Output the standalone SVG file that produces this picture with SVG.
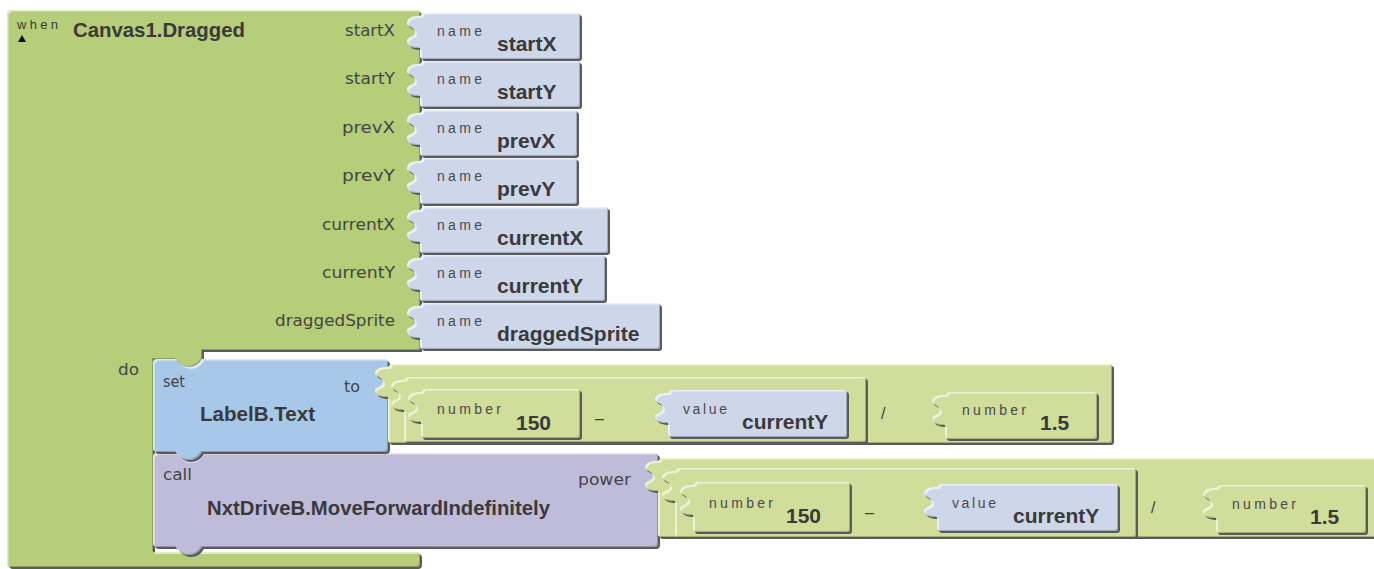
<svg xmlns="http://www.w3.org/2000/svg" width="1374" height="569" viewBox="0 0 1374 569">
<style>
text{font-family:"Liberation Sans",Arial,sans-serif;fill:#3a3a3a}
.sm{font-size:14px;fill:#4a4a4a}
.lb{font-family:"DejaVu Sans","Liberation Sans",sans-serif;font-size:15.5px;fill:#454545}
.bd{font-size:21px;font-weight:bold}
.tt{font-size:20.5px;font-weight:bold}
.op{font-size:16px;fill:#404040}
.blk{filter:url(#bv)}
.ev{fill:#B6CD79}
.mt{fill:#D0DD9B}
.nm{fill:#CED7EA}
.st{fill:#A7C8E9}
.cl{fill:#BFBCDA}
</style>
<defs>
<filter id="bv" x="-5%" y="-5%" width="110%" height="115%" color-interpolation-filters="sRGB">
<feOffset in="SourceAlpha" dx="2" dy="2" result="off"/>
<feComposite in="off" in2="SourceAlpha" operator="out" result="outer"/>
<feFlood flood-color="#5a5a5a"/>
<feComposite in2="outer" operator="in" result="shadow"/>
<feOffset in="SourceAlpha" dx="1.5" dy="1.5" result="off2"/>
<feComposite in="SourceAlpha" in2="off2" operator="out" result="tl"/>
<feFlood flood-color="#ffffff" flood-opacity="0.6"/>
<feComposite in2="tl" operator="in" result="hl"/>
<feOffset in="SourceAlpha" dx="-1.5" dy="-1.5" result="off3"/>
<feComposite in="SourceAlpha" in2="off3" operator="out" result="br"/>
<feFlood flood-color="#000000" flood-opacity="0.22"/>
<feComposite in2="br" operator="in" result="dk"/>
<feMerge><feMergeNode in="shadow"/><feMergeNode in="SourceGraphic"/><feMergeNode in="hl"/><feMergeNode in="dk"/></feMerge>
</filter>
</defs>

<g id="canvas1-dragged">
<path class="blk ev" d="M11,10 H416 Q420,10 420,14 V350 H202 V359 Q197,367 189,367 Q181,367 176,359 H153 V552 H416 Q420,552 420,556 V563 Q420,567 416,567 H11 Q7,567 7,563 V14 Q7,10 11,10 Z"/>
<text x="17" y="29" font-size="13" fill="#404040" textLength="41">when</text>
<polygon points="18,42 22,35 26,42" fill="#111"/>
<text class="tt" x="73" y="37" textLength="172" lengthAdjust="spacingAndGlyphs">Canvas1.Dragged</text>
<text class="lb" x="395" y="36" text-anchor="end" textLength="50" lengthAdjust="spacingAndGlyphs">startX</text>
<text class="lb" x="395" y="84" text-anchor="end" textLength="50" lengthAdjust="spacingAndGlyphs">startY</text>
<text class="lb" x="395" y="133" text-anchor="end" textLength="53" lengthAdjust="spacingAndGlyphs">prevX</text>
<text class="lb" x="395" y="181" text-anchor="end" textLength="53" lengthAdjust="spacingAndGlyphs">prevY</text>
<text class="lb" x="395" y="230" text-anchor="end" textLength="73" lengthAdjust="spacingAndGlyphs">currentX</text>
<text class="lb" x="395" y="278" text-anchor="end" textLength="73" lengthAdjust="spacingAndGlyphs">currentY</text>
<text class="lb" x="395" y="326" text-anchor="end" textLength="120" lengthAdjust="spacingAndGlyphs">draggedSprite</text>
<text class="lb" x="118" y="375" textLength="21" lengthAdjust="spacingAndGlyphs">do</text>
</g>

<g id="name-startX">
<path class="blk nm" d="M423,13 H577 Q580,13 580,16 V56 Q580,59 577,59 H423 Q420,59 420,56 V48 C413,48 407,47 407,40 C407,37 415,37 415,32 C415,27 407,27 407,24 C407,17 413,16 420,16 Z"/>
<text class="sm" x="437" y="36" textLength="45">name</text>
<text class="bd" x="497" y="51">startX</text>
</g>
<g id="name-startY">
<path class="blk nm" d="M423,61 H577 Q580,61 580,64 V104 Q580,107 577,107 H423 Q420,107 420,104 V96 C413,96 407,95 407,88 C407,85 415,85 415,80 C415,75 407,75 407,72 C407,65 413,64 420,64 Z"/>
<text class="sm" x="437" y="84" textLength="45">name</text>
<text class="bd" x="497" y="99">startY</text>
</g>
<g id="name-prevX">
<path class="blk nm" d="M423,110 H574 Q577,110 577,113 V153 Q577,156 574,156 H423 Q420,156 420,153 V145 C413,145 407,144 407,137 C407,134 415,134 415,129 C415,124 407,124 407,121 C407,114 413,113 420,113 Z"/>
<text class="sm" x="437" y="133" textLength="45">name</text>
<text class="bd" x="497" y="148">prevX</text>
</g>
<g id="name-prevY">
<path class="blk nm" d="M423,158 H574 Q577,158 577,161 V201 Q577,204 574,204 H423 Q420,204 420,201 V193 C413,193 407,192 407,185 C407,182 415,182 415,177 C415,172 407,172 407,169 C407,162 413,161 420,161 Z"/>
<text class="sm" x="437" y="181" textLength="45">name</text>
<text class="bd" x="497" y="196">prevY</text>
</g>
<g id="name-currentX">
<path class="blk nm" d="M423,207 H605 Q608,207 608,210 V250 Q608,253 605,253 H423 Q420,253 420,250 V242 C413,242 407,241 407,234 C407,231 415,231 415,226 C415,221 407,221 407,218 C407,211 413,210 420,210 Z"/>
<text class="sm" x="437" y="230" textLength="45">name</text>
<text class="bd" x="497" y="245">currentX</text>
</g>
<g id="name-currentY">
<path class="blk nm" d="M423,255 H602 Q605,255 605,258 V298 Q605,301 602,301 H423 Q420,301 420,298 V290 C413,290 407,289 407,282 C407,279 415,279 415,274 C415,269 407,269 407,266 C407,259 413,258 420,258 Z"/>
<text class="sm" x="437" y="278" textLength="45">name</text>
<text class="bd" x="497" y="293">currentY</text>
</g>
<g id="name-draggedSprite">
<path class="blk nm" d="M423,303 H657 Q660,303 660,306 V346 Q660,349 657,349 H423 Q420,349 420,346 V338 C413,338 407,337 407,330 C407,327 415,327 415,322 C415,317 407,317 407,314 C407,307 413,306 420,306 Z"/>
<text class="sm" x="437" y="326" textLength="45">name</text>
<text class="bd" x="497" y="341">draggedSprite</text>
</g>

<g id="call-move">
<path class="blk cl" d="M157,453 H176 Q181,461 189,461 Q197,461 202,453 H654 Q658,453 658,457 V543 Q658,547 654,547 H202 Q197,555 189,555 Q181,555 176,547 H157 Q153,547 153,543 V457 Q153,453 157,453 Z"/>
<text class="lb" x="163" y="480" textLength="29" lengthAdjust="spacingAndGlyphs">call</text>
<text class="lb" x="578" y="485" textLength="53" lengthAdjust="spacingAndGlyphs">power</text>
<text class="tt" x="207" y="515" textLength="343" lengthAdjust="spacingAndGlyphs">NxtDriveB.MoveForwardIndefinitely</text>
</g>

<g id="set-label">
<path class="blk st" d="M157,359 H176 Q181,367 189,367 Q197,367 202,359 H384 Q388,359 388,363 V448 Q388,452 384,452 H202 Q197,460 189,460 Q181,460 176,452 H157 Q153,452 153,448 V363 Q153,359 157,359 Z"/>
<text class="lb" x="163" y="387" textLength="22" lengthAdjust="spacingAndGlyphs">set</text>
<text class="lb" x="344" y="392" textLength="16" lengthAdjust="spacingAndGlyphs">to</text>
<text class="tt" x="200" y="421" textLength="115" lengthAdjust="spacingAndGlyphs">LabelB.Text</text>
</g>

<g id="divide-a">
<path class="blk mt" d="M391,364 H1109 Q1112,364 1112,367 V440 Q1112,443 1109,443 H391 Q388,443 388,440 V397 C381,397 375,396 375,390 C375,387 383,387 383,382 C383,377 375,377 375,374 C375,368 381,367 388,367 Z"/>
<text class="op" x="881" y="419">/</text>
</g>
<g id="minus-a">
<path class="blk mt" d="M407,377 H863 Q866,377 866,380 V439 Q866,442 863,442 H407 Q404,442 404,439 V410 C397,410 391,409 391,403 C391,400 399,400 399,395 C399,390 391,390 391,387 C391,381 397,380 404,380 Z"/>
<text class="op" x="595" y="424">–</text>
</g>
<g id="number-150-a">
<path class="blk mt" d="M424,389 H577 Q580,389 580,392 V435 Q580,438 577,438 H424 Q421,438 421,435 V422 C414,422 408,421 408,415 C408,412 416,412 416,407 C416,402 408,402 408,399 C408,393 414,392 421,392 Z"/>
<text class="sm" x="437" y="414" textLength="64">number</text>
<text class="bd" x="516" y="430">150</text>
</g>
<g id="value-currentY-a">
<path class="blk nm" d="M671,390 H844 Q847,390 847,393 V434 Q847,437 844,437 H671 Q668,437 668,434 V423 C661,423 655,422 655,416 C655,413 663,413 663,408 C663,403 655,403 655,400 C655,394 661,393 668,393 Z"/>
<text class="sm" x="683" y="414" textLength="44">value</text>
<text class="bd" x="742" y="429">currentY</text>
</g>
<g id="number-1.5-a">
<path class="blk mt" d="M948,392 H1094 Q1097,392 1097,395 V436 Q1097,439 1094,439 H948 Q945,439 945,436 V425 C938,425 932,424 932,418 C932,415 940,415 940,410 C940,405 932,405 932,402 C932,396 938,395 945,395 Z"/>
<text class="sm" x="962" y="415" textLength="64">number</text>
<text class="bd" x="1040" y="430">1.5</text>
</g>

<g id="divide-b">
<path class="blk mt" d="M661,458 H1379 Q1382,458 1382,461 V534 Q1382,537 1379,537 H661 Q658,537 658,534 V491 C651,491 645,490 645,484 C645,481 653,481 653,476 C653,471 645,471 645,468 C645,462 651,461 658,461 Z"/>
<text class="op" x="1151" y="513">/</text>
</g>
<g id="minus-b">
<path class="blk mt" d="M678,468 H1133 Q1136,468 1136,471 V534 Q1136,537 1133,537 H678 Q675,537 675,534 V501 C668,501 662,500 662,494 C662,491 670,491 670,486 C670,481 662,481 662,478 C662,472 668,471 675,471 Z"/>
<text class="op" x="865" y="518">–</text>
</g>
<g id="number-150-b">
<path class="blk mt" d="M696,482 H847 Q850,482 850,485 V529 Q850,532 847,532 H696 Q693,532 693,529 V515 C686,515 680,514 680,508 C680,505 688,505 688,500 C688,495 680,495 680,492 C680,486 686,485 693,485 Z"/>
<text class="sm" x="709" y="508" textLength="64">number</text>
<text class="bd" x="786" y="523">150</text>
</g>
<g id="value-currentY-b">
<path class="blk nm" d="M940,484 H1115 Q1118,484 1118,487 V528 Q1118,531 1115,531 H940 Q937,531 937,528 V517 C930,517 924,516 924,510 C924,507 932,507 932,502 C932,497 924,497 924,494 C924,488 930,487 937,487 Z"/>
<text class="sm" x="952" y="508" textLength="44">value</text>
<text class="bd" x="1013" y="523">currentY</text>
</g>
<g id="number-1.5-b">
<path class="blk mt" d="M1219,485 H1363 Q1366,485 1366,488 V530 Q1366,533 1363,533 H1219 Q1216,533 1216,530 V518 C1209,518 1203,517 1203,511 C1203,508 1211,508 1211,503 C1211,498 1203,498 1203,495 C1203,489 1209,488 1216,488 Z"/>
<text class="sm" x="1232" y="509" textLength="64">number</text>
<text class="bd" x="1310" y="524">1.5</text>
</g>

<g id="connectors"/>
</svg>
